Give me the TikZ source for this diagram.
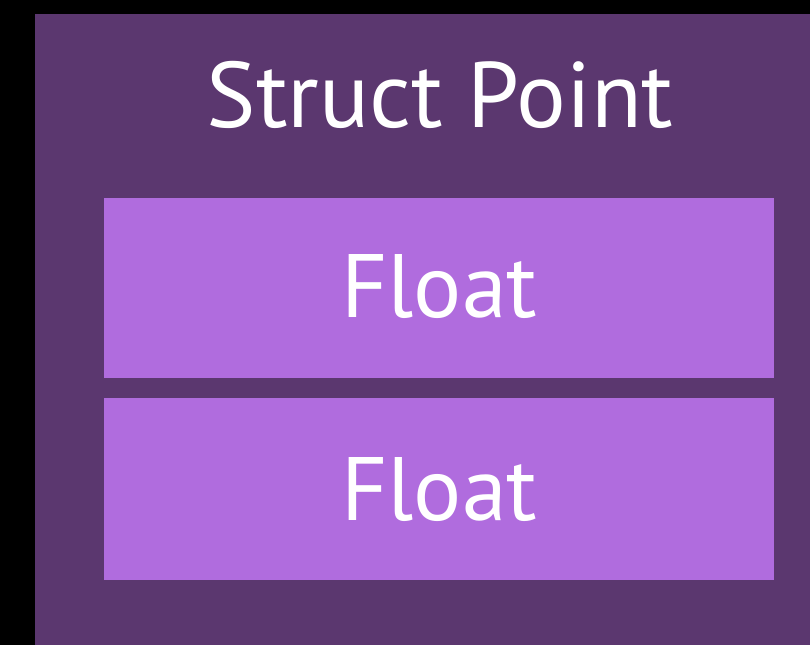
\documentclass[tikz,border=0pt]{standalone}
\usepackage{fontspec}
\setmainfont{PT Sans}
\definecolor{structbg}{HTML}{5B376F}
\definecolor{fieldbg}{HTML}{B06CDE}
\begin{document}
\begin{tikzpicture}[x=1pt,y=-1pt,
  field/.style={fill=fieldbg, draw=none, minimum width=670pt, minimum height=180pt,
    inner sep=0pt, anchor=north west},
  label/.style={text=white, inner sep=0pt, anchor=base}]
  \fill[black] (0,0) rectangle (810,645);
  \useasboundingbox (0,0) rectangle (810,645);
  % outer struct box
  \node[fill=structbg, draw=none, minimum width=775pt, minimum height=631pt, inner sep=0pt, anchor=north west] (point) at (35,14) {};
  \node[label, font=\fontsize{93}{93}\selectfont] (title) at (440,127) {Struct Point};
  % the two fields
  \node[field] (f1) at (104,198) {};
  \node[label, font=\fontsize{90}{90}\selectfont] (x) at (f1.center |- 0,317) {Float};
  \node[field, minimum height=182pt] (f2) at (104,398) {};
  \node[label, font=\fontsize{90}{90}\selectfont] (y) at (f2.center |- 0,520) {Float};
\end{tikzpicture}
\end{document}
